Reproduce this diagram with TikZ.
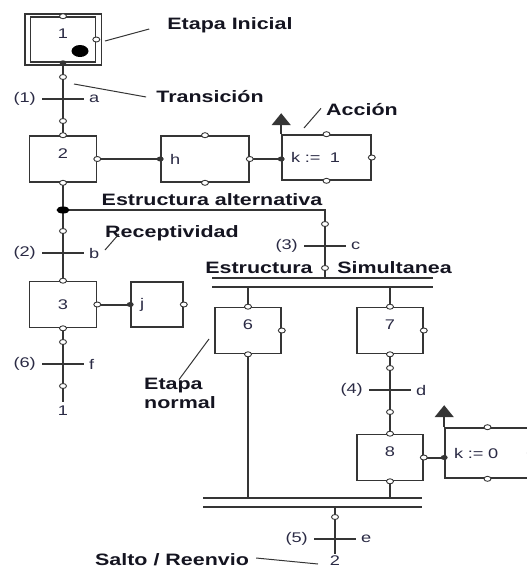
\documentclass[tikz,border=0pt]{standalone}
\usepackage{fontspec}
\setmainfont{Liberation Sans}[FakeStretch=1.3]
\usepackage{xcolor}
\usetikzlibrary{arrows.meta,positioning,calc}
\definecolor{linea}{HTML}{353535}
\definecolor{texto}{HTML}{2A2A44}
\definecolor{negro}{HTML}{141420}

\begin{document}
\begin{tikzpicture}[
  x=1pt, y=-1pt,
  etapa/.style={draw=linea, line width=1.6pt, minimum width=67, minimum height=46,
                font=\fontsize{14}{16}\selectfont, text=texto,
                text height=10pt, text depth=12pt},
  accion/.style={draw=linea, line width=1.6pt, minimum height=46, inner xsep=9pt,
                 align=left, font=\fontsize{14}{16}\selectfont, text=texto},
  rotulo/.style={font=\bfseries\fontsize{16.5}{19}\selectfont, text=negro, inner sep=0pt},
  cond/.style={font=\fontsize{14}{16}\selectfont, text=texto, inner sep=0pt},
  conex/.style={draw=linea, line width=2pt},
  barra/.style={draw=linea, line width=1.6pt},
  guia/.style={draw=linea, line width=1pt},
  marca/.style={draw=linea, fill=white, line width=0.9pt},
  marcan/.style={fill=linea},
  flecha/.style={draw=linea, line width=1.6pt, -{Triangle[length=12pt,width=19pt]}},
]
\useasboundingbox (0,0) rectangle (527,571);

% etapas
\node[etapa, minimum width=65, minimum height=45] (e1) at (63,39.5) {1};
\draw[draw=linea, line width=1.6pt] ([shift={(-5,-2)}]e1.north west) rectangle ([shift={(5,2)}]e1.south east);
\fill[black] (80,51) ellipse (8.5 and 6);
\node[etapa] (e2) at (63,159) {2};
\node[etapa, text depth=0pt] (e3) at (63,304.5) {3};
\node[etapa, minimum width=66] (e6) at (248,330.5) {6};
\node[etapa, minimum width=66] (e7) at (390,330.5) {7};
\node[etapa, minimum width=66] (e8) at (390,457.5) {8};

% acciones
\node[accion, text width=70] (h) at (205,159) {h};
\node[accion, text width=71, minimum height=45] (k1) at (326.5,157.5) {k :=\ \ 1};
\node[accion, text width=34, minimum height=45] (j) at (157,304.5) {j};
\node[accion, text width=67, minimum height=50] (k0) at (487.5,453) {k := 0};

% transiciones
\foreach \n/\x/\y/\l/\r in {t1/63/99/{(1)}/a, t2/63/253/{(2)}/b, t3/325/246/{(3)}/c,
                            t6/63/364/{(6)}/f, t4/390/390/{(4)}/d, t5/335/539/{(5)}/e}{
  \coordinate (\n) at (\x,\y);
  \draw[barra] ([xshift=-21pt]\n) -- ([xshift=21pt]\n);
  \node[cond, anchor=east] (\n-i) at ([xshift=-27pt]\n) {\l};
  \node[cond, anchor=west] (\n-d) at ([xshift=26pt]\n) {\r};
}

% estructuras
\coordinate (alt) at (63,210);
\coordinate (simA) at (325,278);
\coordinate (simA-i) at (212,278); \coordinate (simA-d) at (433,278);
\coordinate (simB-i) at (212,287); \coordinate (simB-d) at (433,287);
\coordinate (finA-i) at (203,498); \coordinate (finA-d) at (422,498);
\coordinate (finB-i) at (203,507); \coordinate (finB-d) at (422,507);
\coordinate (salto) at (63,402);
\coordinate (salto2) at (335,554);
\coordinate (k1e) at (h.east -| k1.west);
\coordinate (k0e) at (e8.east -| k0.west);

\draw[conex] (e1.south) -- (e2.north);
\draw[conex] (e2.south) -- (e3.north);
\draw[conex] (e3.south) -- (salto);
\draw[conex] (e2.east) -- (h.west);
\draw[conex] (h.east) -- (k1e);
\draw[conex] (e3.east) -- (j.west);
\draw[conex] (alt) -| (simA);
\fill[black] (alt) ellipse (6.5 and 3.5);
\draw[barra] (simA-i) -- (simA-d);
\draw[barra] (simB-i) -- (simB-d);
\draw[conex] (e6.north |- simB-i) -- (e6.north);
\draw[conex] (e7.north |- simB-i) -- (e7.north);
\draw[conex] (e6.south) -- (e6.south |- finA-i);
\draw[conex] (e7.south) -- (e8.north);
\draw[conex] (e8.south) -- (e8.south |- finA-i);
\draw[conex] (e8.east) -- (k0e);
\draw[barra] (finA-i) -- (finA-d);
\draw[barra] (finB-i) -- (finB-d);
\draw[conex] (salto2 |- finB-i) -- (salto2);
\draw[flecha] (k1.north west) -- ++(0,-21);
\draw[flecha] (k0.north west) -- ++(0,-22);

\node[cond, below=4pt of salto] (ir1) {1};
\node[cond, below=2pt of salto2] (ir2) {2};

% marcas
\foreach \p in {e1.north, e1.east, e2.north, e2.east, e2.south, h.north, h.south, h.east,
                k1.north, k1.south, k1.east, e3.north, e3.east, e3.south, j.east,
                e6.north, e6.east, e6.south, e7.north, e7.east, e7.south,
                e8.north, e8.east, e8.south, k0.north, k0.south, k0.east}
  \draw[marca] (\p) ellipse (3.5 and 2.5);
\foreach \x/\y in {63/77, 63/121, 63/231, 325/224, 325/268, 63/342, 63/386,
                   390/368, 390/412, 335/517}
  \draw[marca] (\x,\y) ellipse (3.5 and 2.5);
\foreach \p in {e1.south, h.west, k1e, j.west, k0e}
  \fill[marcan] (\p) ellipse (3.5 and 2.5);

% rotulos
\node[rotulo] (ini) at (230,25) {Etapa Inicial};
\node[rotulo] (tra) at (210,97) {Transición};
\node[rotulo] (acc) at (362,110) {Acción};
\node[rotulo] (ealt) at (212,200) {Estructura alternativa};
\node[rotulo] (rec) at (172,233) {Receptividad};
\node[rotulo] (esim) at (259,268) {Estructura};
\node[rotulo] (sim) at (394.5,268) {Simultanea};
\node[rotulo, align=left] (enor) at (180,393) {Etapa\\normal};
\node[rotulo] (sal) at (172,560) {Salto / Reenvio};

\coordinate (g1) at (105,41);  \coordinate (g2) at (74,84);
\coordinate (g3) at (304,128); \coordinate (g4) at (105,250);
\coordinate (g5) at (209,339); \coordinate (g6) at (318,564);
\draw[guia] (g1) -- ([xshift=-18pt,yshift=-4pt]ini.west);
\draw[guia] (g2) -- ([xshift=-10pt]tra.west);
\draw[guia] (g3) -- ([xshift=-5pt,yshift=8pt]acc.south west);
\draw[guia] (g4) -- ([xshift=14pt,yshift=7pt]rec.south west);
\draw[guia] (g5) -- ([xshift=35pt,yshift=-2pt]enor.north west);
\draw[guia] (sal.east) ++(7pt,2pt) -- (g6);
\end{tikzpicture}
\end{document}
